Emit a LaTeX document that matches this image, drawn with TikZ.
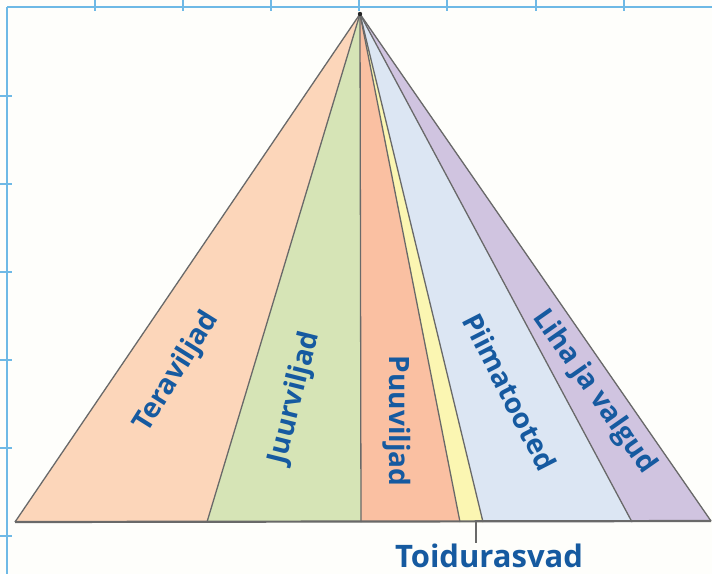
\documentclass[tikz,border=0pt]{standalone}
\usepackage{fontspec}
\setmainfont{Open Sans}
\definecolor{bgc}{RGB}{254,254,251}
\definecolor{gridc}{RGB}{110,185,230}
\definecolor{edgec}{RGB}{105,105,105}
\definecolor{terac}{RGB}{252,214,186}
\definecolor{juurc}{RGB}{214,228,182}
\definecolor{puuc}{RGB}{250,192,162}
\definecolor{rasvc}{RGB}{251,246,178}
\definecolor{piimc}{RGB}{220,230,243}
\definecolor{lihac}{RGB}{208,196,224}
\definecolor{labc}{RGB}{22,90,160}
\begin{document}
\begin{tikzpicture}[x=1pt,y=-1pt,
  gridline/.style={draw=gridc,line width=1.2pt},
  edge/.style={draw=edgec,line width=1.3pt},
  lab/.style={text=labc,font=\fontsize{28}{28}\selectfont\bfseries,inner sep=0pt}]
\useasboundingbox (0,0) rectangle (712,574);
\fill[bgc] (0,0) rectangle (712,574);
% grid
\draw[gridline] (7,7) -- (712,7);
\draw[gridline] (7,7) -- (7,574);
\foreach \gx in {95,183,271,359,447,536,624} \draw[gridline] (\gx,0) -- (\gx,11);
\foreach \gy in {96,184,272,360,448,536} \draw[gridline] (0,\gy) -- (12,\gy);
% key points
\coordinate (A) at (360,14);
\coordinate (L) at (15,522);
\coordinate (b1) at (207,522);
\coordinate (b2) at (361,522);
\coordinate (b3) at (460,522);
\coordinate (b4) at (483,522);
\coordinate (b5) at (632,522);
\coordinate (R) at (711,521);
\coordinate (tk) at (476,522);
% fills
\fill[terac] (A) -- (L) -- (b1) -- cycle;
\fill[juurc] (A) -- (b1) -- (b2) -- cycle;
\fill[puuc] (A) -- (b2) -- (b3) -- cycle;
\fill[rasvc] (A) -- (b3) -- (b4) -- cycle;
\fill[piimc] (A) -- (b4) -- (b5) -- cycle;
\fill[lihac] (A) -- (b5) -- (R) -- cycle;
% edges
\draw[edge] (L) -- (A) -- (R);
\foreach \p in {b1,b2,b3,b4,b5} \draw[edge] (A) -- (\p);
\draw[draw=edgec,line width=2.2pt] (L) -- (R);
\fill[black!85] (A) circle (2.2pt);
% labels
\node[lab,rotate=58] (tera) at (177,372) {Teraviljad};
\node[lab,rotate=76] (juur) at (295,398) {Juurviljad};
\node[lab,rotate=-90] (puu) at (397,421) {Puuviljad};
\node[lab,rotate=-63] (piim) at (510,392) {Piimatooted};
\node[lab,rotate=-55] (liha) at (594,392) {Liha ja valgud};
\node[lab,font=\fontsize{31}{31}\selectfont\bfseries,anchor=base] (rasv) at (489,567) {Toidurasvad};
\draw[draw=edgec,line width=1.5pt] (tk) -- (tk |- rasv.north);
\end{tikzpicture}
\end{document}
